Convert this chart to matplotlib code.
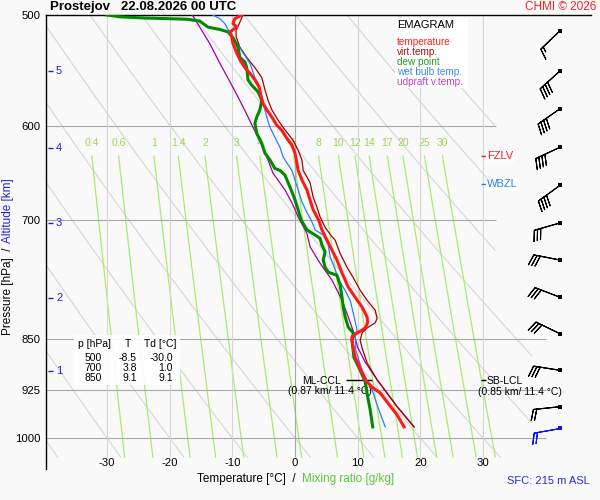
import numpy as np
import matplotlib
matplotlib.use('Agg')
import matplotlib.pyplot as plt
from matplotlib.patches import Rectangle
from matplotlib.ticker import NullLocator, NullFormatter

plt.rcParams['font.family'] = ['Liberation Sans', 'DejaVu Sans']

# ---------------- data ----------------
temp_p = [500, 503, 507, 510, 513, 514, 518, 524, 532, 538, 545, 550, 556, 563, 572, 578, 584, 591, 599, 604,
          612, 619, 627, 637, 645, 655, 666, 677, 688, 700, 711, 723, 735, 747, 763, 781, 794, 807, 820, 827,
          834, 838, 842, 847, 852, 863, 876, 884, 899, 909, 920, 929, 944, 963, 982]
temp_t = [-8.5, -9.6, -9.9, -9.3, -10.1, -10.4, -10.1, -9.9, -9.3, -8.8, -8.0, -7.2, -6.4, -5.7, -5.4, -5.1, -4.5, -3.7, -2.9, -2.1,
          -1.3, -0.5, 0.0, 0.3, 0.5, 1.1, 1.9, 2.4, 2.9, 3.8, 4.3, 5.1, 5.9, 6.7, 7.5, 8.5, 9.6, 10.7, 11.5, 11.6,
          11.3, 10.7, 9.9, 9.1, 9.1, 9.3, 9.6, 10.0, 10.7, 11.2, 12.3, 13.6, 14.8, 16.3, 17.4]

tv_p = [500, 513, 518, 527, 536, 545, 554, 565, 575, 584, 594, 602, 614, 624, 634, 645, 652, 658, 674, 685,
        696, 708, 719, 723, 739, 756, 769, 785, 798, 811, 822, 828, 835, 842, 852, 863, 884, 909, 950, 982]
tv_t = [-8.3, -9.4, -9.4, -8.8, -7.7, -6.4, -5.3, -4.8, -4.3, -3.7, -2.7, -1.8, -0.3, 0.5, 1.1, 1.3, 1.9, 2.4, 2.9, 3.5,
        4.0, 4.8, 5.9, 6.4, 7.2, 8.3, 9.3, 10.4, 11.5, 12.8, 13.1, 12.8, 11.5, 10.7, 10.4, 10.7, 11.5, 13.1, 16.3, 19.0]

dew_p = [500, 501.5, 502.5, 503, 503.5, 505, 510, 512, 514, 519, 527, 536, 540, 545, 556, 561, 567, 575, 584, 591,
         597, 607, 617, 627, 634, 643, 645, 650, 658, 668, 677, 688, 700, 711, 717, 721, 729, 737, 747, 756,
         762, 766, 778, 794, 807, 820, 834, 842, 852, 876, 895, 912, 935, 955, 982]
dew_t = [-30.0, -27.9, -23.9, -20.4, -17.2, -15.2, -13.9, -12.0, -10.7, -9.9, -9.1, -8.8, -8.0, -7.7, -7.5, -6.9, -5.9, -5.3, -5.6, -6.1,
         -6.4, -6.1, -5.3, -4.8, -4.0, -3.2, -2.4, -1.6, -1.1, -0.5, 0.0, 0.5, 1.0, 1.9, 3.2, 4.0, 4.3, 4.8, 4.5, 4.8,
         5.3, 6.7, 7.2, 7.5, 7.7, 8.0, 8.5, 9.3, 9.1, 9.4, 10.4, 11.2, 11.6, 12.0, 12.4]

wb_p = [500, 503, 507, 511, 514, 518, 525, 532, 541, 554, 559, 575, 584, 591, 601, 611, 621, 631, 637, 645,
        655, 666, 679, 691, 700, 711, 717, 729, 743, 759, 775, 785, 798, 815, 838, 845, 866, 895, 924, 950, 982]
wb_t = [-13.1, -12.0, -11.2, -10.8, -10.4, -9.9, -9.1, -8.3, -7.2, -6.4, -5.9, -5.1, -4.8, -4.5, -4.0, -3.2, -2.4, -1.9, -1.3, -0.5,
        0.0, 0.5, 1.1, 1.9, 2.6, 3.2, 4.5, 5.3, 5.6, 6.4, 7.2, 8.0, 8.8, 9.3, 9.9, 9.6, 9.7, 10.7, 12.3, 13.2, 14.4]

up_p = [500, 510, 524, 541, 563, 581, 601, 621, 631, 648, 666, 680, 696, 715, 731, 751, 772, 798, 820, 842,
        862, 883, 909, 950, 982]
up_t = [-16.4, -15.2, -13.6, -12.0, -9.9, -8.3, -6.7, -5.1, -4.5, -3.5, -1.6, -0.5, 0.5, 1.9, 2.4, 4.0, 5.9, 7.5, 8.5, 9.4,
        10.0, 11.2, 13.1, 16.3, 19.0]

wind_p = [984, 950, 895, 843, 794, 747, 703, 661, 621, 583, 548, 513]
wind_dir = [260, 264, 279, 296, 291, 281, 254, 234, 245, 235, 228, 226]
wind_kt = [20, 20, 30, 30, 30, 30, 30, 40, 40, 40, 40, 15]

p_levels = [500, 600, 700, 850, 925, 1000]
t_ticks = [-30, -20, -10, 0, 10, 20, 30]
alt_km = [1, 2, 3, 4, 5]
alt_p = [896, 795, 703, 622, 548]
mr_vals = [0.4, 0.6, 1, 1.4, 2, 3, 4, 6, 8, 10, 12, 14, 17, 20, 25, 30]
mr_labels = ['0.4', '0.6', '1', '1.4', '2', '3', '4', '6', '8', '10', '12', '14', '17', '20', '25', '30']
tab_p = ['500', '700', '850']
tab_t = ['-8.5', '3.8', '9.1']
tab_td = ['-30.0', '1.0', '9.1']
fzlv_p = 630
wbzl_p = 660
lcl_p = 909

# ---------------- layout helpers ----------------
W, H = 600, 500
X0, KX = 295.0, 6.267          # pixel of 0 degC, pixels per degC
Y1000, KY = 438.0, 610.4       # pixel of 1000 hPa, pixels per ln(p)


def tx(px):
    return (px - X0) / KX


def py(pix):
    return 1000.0 * np.exp((pix - Y1000) / KY)


def ftext(x, y, s, **kw):
    return fig.text(x / W, 1 - y / H, s, **kw)


RED = '#ff1a1a'
DRED = '#a00000'
GREEN = '#008a00'
BLUE = '#2a7fff'
MAG = '#a000a8'
MRG = '#a6ee6a'
GRID = '#a8a8a8'
LGRID = '#d6d6d6'
ABLUE = '#2020e0'
BG = '#f9f9f9'

fig = plt.figure(figsize=(6, 5), dpi=100)
fig.patch.set_facecolor(BG)
L, R, T_, B = 46, 591, 15, 469
ax = fig.add_axes([L / W, 1 - B / H, (R - L) / W, (B - T_) / H])
ax.set_facecolor(BG)
ax.set_yscale('log')
ax.set_xlim(tx(L), tx(R))
ax.set_ylim(py(B), 500)
for s in ['right', 'bottom']:
    ax.spines[s].set_visible(False)
ax.spines['left'].set_color('black')
ax.spines['top'].set_color('black')
ax.spines['left'].set_linewidth(1.0)
ax.spines['top'].set_linewidth(1.0)
ax.set_xticks([])
ax.yaxis.set_minor_locator(NullLocator())
ax.yaxis.set_minor_formatter(NullFormatter())
ax.set_yticks(p_levels)
ax.set_yticklabels([str(v) for v in p_levels])
ax.tick_params(axis='y', length=0, pad=4, labelsize=8.2)

# ---- dry adiabats ----
pp = np.linspace(500, py(457), 200)
for th in range(-40, 90, 10):
    tt = (th + 273.15) * (pp / 1000.0) ** 0.286 - 273.15
    lim = np.where(pp < 790, tx(496), tx(533))
    tt = np.where(tt <= lim, tt, np.nan)
    ax.plot(tt, pp, color=LGRID, lw=0.8, zorder=1)

# ---- mixing ratio lines ----
pm = np.linspace(py(156), py(457), 50)
for w, lab in zip(mr_vals, mr_labels):
    e = w * pm / (622.0 + w)
    le = np.log(e / 6.112)
    tm = 243.5 * le / (17.67 - le)
    ax.plot(tm, pm, color=MRG, lw=0.9, zorder=1.5)
    ax.text(tm[0], py(143), lab, color='#9ad84e', fontsize=7.5, ha='center', va='center', zorder=1.5)

# ---- grid ----
ax.hlines([600, 700], tx(L), tx(496), color=GRID, lw=0.8, zorder=2)
ax.hlines([850, 925, 1000], tx(L), tx(546), color=GRID, lw=0.8, zorder=2)
for t in t_ticks:
    ax.vlines(t, py(457), 500, color=GRID if t == 0 else LGRID, lw=0.8, zorder=2)
    ax.text(t, py(463), str(t), fontsize=8.2, ha='center', va='center')

# ---- altitude ticks ----
ax.hlines(alt_p, tx(48), tx(53), color=ABLUE, lw=1.0, zorder=3)
for a, p in zip(alt_km, alt_p):
    ax.text(tx(56), p, str(a), color=ABLUE, fontsize=8, ha='left', va='center')

# ---- annotations under profiles ----
ax.text(tx(302), py(381), 'ML-CCL', fontsize=7.5, ha='left', va='center', zorder=3)
ax.hlines(lcl_p, tx(346), tx(372), color='black', lw=1.0, zorder=3)
ax.text(tx(330), py(391), '(0.87 km/ 11.4 °C)', fontsize=7.5, ha='center', va='center', zorder=3)
ax.hlines(lcl_p, tx(481), tx(486), color='black', lw=1.0, zorder=3)
ax.text(tx(487), py(381), 'SB-LCL', fontsize=7.5, ha='left', va='center', zorder=3)
ax.text(tx(520), py(392), '(0.85 km/ 11.4 °C)', fontsize=7.5, ha='center', va='center', zorder=3)

# ---- profiles ----
ax.plot(up_t, up_p, color=MAG, lw=0.9, zorder=5)
ax.plot(tv_t, tv_p, color=DRED, lw=0.9, zorder=5)
ax.plot(wb_t, wb_p, color=BLUE, lw=0.9, zorder=5)
ax.plot(dew_t, dew_p, color=GREEN, lw=2.2, zorder=6)
ax.plot(temp_t, temp_p, color=RED, lw=2.2, zorder=7)

# ---- freezing levels ----
ax.hlines(fzlv_p, tx(481), tx(486), color=RED, lw=1.0, zorder=3)
ax.text(tx(487), fzlv_p, 'FZLV', color=RED, fontsize=8, ha='left', va='center', zorder=4,
        bbox=dict(facecolor='white', edgecolor='none', pad=1.0))
ax.hlines(wbzl_p, tx(481), tx(486), color=BLUE, lw=1.0, zorder=3)
ax.text(tx(487), wbzl_p, 'WBZL', color=BLUE, fontsize=8, ha='left', va='center', zorder=4,
        bbox=dict(facecolor='white', edgecolor='none', pad=1.0))

# ---- wind barbs ----
wd = np.radians(np.array(wind_dir, dtype=float))
ws = np.array(wind_kt, dtype=float)
u = -ws * np.sin(wd)
v = -ws * np.cos(wd)
xb = np.full(len(wind_p), tx(560))
ax.barbs(xb[1:], wind_p[1:], u[1:], v[1:], length=6.2, linewidth=0.8, color='black', zorder=8,
         flip_barb=True)
ax.barbs(xb[:1], wind_p[:1], u[:1], v[:1], length=6.2, linewidth=0.8, color='#1010ff', zorder=8,
         flip_barb=True)
ax.scatter(xb[1:], wind_p[1:], marker='s', s=5, color='black', zorder=9, linewidths=0)
ax.scatter(xb[:1], wind_p[:1], marker='s', s=5, color='#1010ff', zorder=9, linewidths=0)

# ---- legend box ----
fig.patches.append(Rectangle((395 / W, 1 - 88 / H), 73 / W, 70 / H, transform=fig.transFigure,
                             facecolor='white', edgecolor='none', zorder=1))
ftext(397, 25, 'EMAGRAM', fontsize=8, ha='left', va='center')
for yy, s, c in [(42, 'temperature', '#ff2020'), (52, 'virt.temp.', '#a01010'), (62, 'dew point', '#20a020'),
                 (72, 'wet bulb temp.', '#3a86ff'), (82, 'udpraft v.temp.', '#c040c0')]:
    ftext(397, yy, s, fontsize=7.2, color=c, ha='left', va='center')

# ---- table box ----
fig.patches.append(Rectangle((74 / W, 1 - 385 / H), 106 / W, 50 / H, transform=fig.transFigure,
                             facecolor='white', edgecolor='none', zorder=1, alpha=0.9))
ftext(78, 344, 'p [hPa]', fontsize=7.5, ha='left', va='center')
ftext(128, 344, 'T', fontsize=7.5, ha='center', va='center')
ftext(144, 344, 'Td [°C]', fontsize=7.5, ha='left', va='center')
for i, yy in enumerate([358, 368, 378]):
    ftext(102, yy, tab_p[i], fontsize=7.5, ha='right', va='center')
    ftext(137, yy, tab_t[i], fontsize=7.5, ha='right', va='center')
    ftext(173, yy, tab_td[i], fontsize=7.5, ha='right', va='center')

# ---- titles and axis labels ----
ftext(50, 7, 'Prostejov   22.08.2026 00 UTC', fontsize=9.5, fontweight='bold', ha='left', va='center')
ftext(596, 7, 'CHMI © 2026', fontsize=8.5, color='#ff2020', ha='right', va='center')
ftext(197, 479, 'Temperature [°C]  /', fontsize=8.5, ha='left', va='center')
ftext(302, 479, 'Mixing ratio [g/kg]', fontsize=8.5, color='#55c830', ha='left', va='center')
ftext(590, 481, 'SFC: 215 m ASL', fontsize=8, color='#2a2ae0', ha='right', va='center')
fig.text(8 / W, 1 - 335 / H, 'Pressure [hPa]  /', fontsize=8.5, rotation=90, rotation_mode='anchor',
         ha='left', va='center')
fig.text(8 / W, 1 - 243 / H, 'Altitude [km]', fontsize=8.5, color='#2020e0', rotation=90,
         rotation_mode='anchor', ha='left', va='center')

fig.savefig('out.png', dpi=100, facecolor=BG)
